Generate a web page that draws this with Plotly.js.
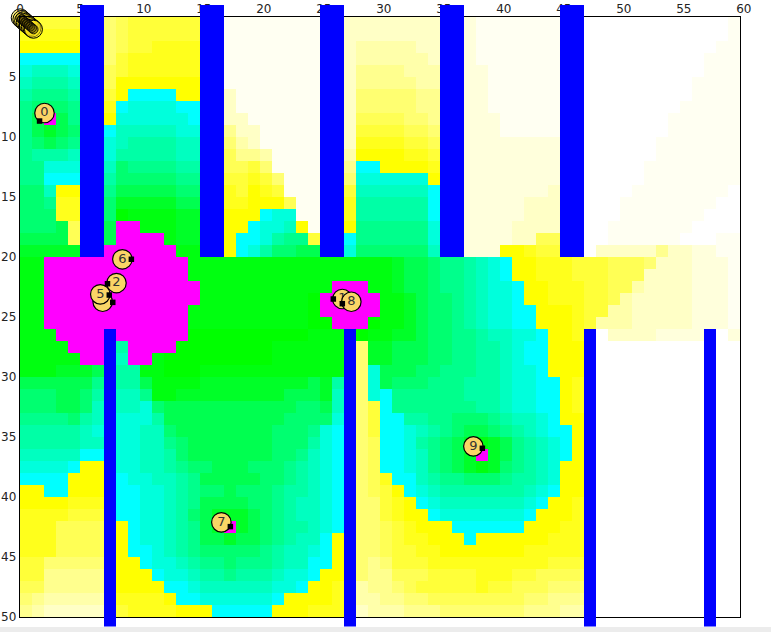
<!DOCTYPE html>
<html>
<head>
<meta charset="utf-8">
<script src="https://cdn.plot.ly/plotly-3.0.1.min.js"></script>
<style>html,body{margin:0;padding:0;background:#ececec;overflow:hidden}#chart{width:771px;height:627px}</style>
</head>
<body>
<div id="chart"></div>
<script>
// Coverage grid: m = saturated, 0-9 = green to cyan, a-k = yellow to white. Groups of five columns.
var gridRows = [
"ccccc ccedc ccccc ccjjj jjjjj jjhhh hhhhh hhijj jjjjj jjkkk kkkkk kkkkj",
"bbbbb bbedc ccccc ccjjj jjjjj jjhhh hhhhh hhijj jjjjj jjkkk kkkkk kkkkj",
"aaaaa aaedc cbbbb bbjjj jjjjj jjhgg ggghh hhijj jjjjj jjkkk kkkkk kkkjj",
"99999 99ecb bbbbb bbjjj jjjjj jjhgg ggggh hhijj jjjjj jjkkk kkkkk kkjjj",
"87778 88dcb bbbbb bbjjj jjjjj jjhff ffggg iiiij jjjjj jjkkk kkkkk kkjjj",
"76667 77daa aaaaa aajjj jjjjj jjhff fffgg iiiij jjjjj jjkkk kkkkk kjjjj",
"65556 66ca9 999aa aahjj jjjjj jjhee eeeff iiiij jjjjj jjkkk kkkkk kjjjj",
"54445 55b98 88899 99hjj jjjjj jjhee eeeff iiiij jjjjj jjkkk kkkkk jjjjj",
"53m35 55a88 88889 88hhj jjjjj jjhdd ddeef iiiii jjjjj jjkkk kkkkj jjjjj",
"53234 44977 77788 77fhh jjjjj jjhcc ccdde iiiii jjjjj jjkkk kkkkj jjjjj",
"54345 55876 66677 66egh jjjjj jjhbb bbccd iiiii iiiii iikkk kkkjj jjjjj",
"56667 77866 66677 66dff gjjjj jjgaa aabbc iiiii iiiii iikkk kkkjj jjjjj",
"55888 88745 55566 55ddc ejjjj jjf99 aaaab iiiii iiiii iikkk kkjjj jjjjj",
"55999 99644 44455 44ccb cejjj jje88 8888a iiiii iiiii iikkk kkjjj jjjjj",
"447aa aa533 33344 33bca bcjjj jjc77 77779 iiiii iiiih hhkkk kjjjj jjjjk",
"445bb bb422 22233 22bba aadjj jjb66 66669 hiiii iihhh hhkkk jjjjj jjjkk",
"444bb bb401 11122 22aaa 988jj jjb66 66669 hhiii iihhh hhkkk jjjjj jjkkk",
"4443d dd3mm 11122 22aa9 887aj jja55 55558 hhiii ihhhh hhkkj jjjjj jkkkk",
"3333d dd3mm mm122 22a99 8655c cc955 55558 hhiii ihhdd ddkkj jjjjj kkkjj",
"22222 22mmm mmm11 11a98 64433 33844 44447 hhiii aabcc cckhh hhhfh hiijj",
"11mmm mmmmm mmmm1 11111 11111 11111 12334 55678 9aabb bcccd ddehh hiiij",
"11mmm mmmmm mmmm1 11111 11111 11111 12334 55678 9aabb bcccd ddhhh hiiij",
"11mmm mmmmm mmmmm 11111 11111 1mmm1 12334 55678 89aab bbccd dghhh hiiij",
"11mmm mmmmm mmmmm 11111 11110 mmmmm 11234 45678 89aab bbccd ghhhh hiiij",
"11mmm mmmmm mmmm1 11111 11110 mmmmm 11234 45678 899aa abccg ghhhh hiiij",
"11mmm mmmmm mmmm1 11111 11110 0mmm0 11234 45678 899aa abcgg ghhhh hiiij",
"111mm mmmmm mmmm0 00000 00001 11101 12234 45567 7889a abbkh hhhii iihki",
"1111m mmm6m mmm00 00000 01111 111e2 23334 45566 7899a aabkk kkkkk kkkkk",
"11111 mmm7m m1000 00000 01111 111e2 23334 45566 7899a aabkk kkkkk kkkkk",
"11122 23366 11000 11111 11111 111e8 33344 55566 7889a aabkk kkkkk kkkkk",
"33333 35566 31111 22222 22223 266e8 34445 55666 78899 abbkk kkkkk kkkkk",
"44433 46677 51122 22222 22333 277e8 95555 55666 78899 abbkk kkkkk kkkkk",
"44433 47777 84333 33333 33344 377ec 95555 55566 78899 abbkk kkkkk kkkkk",
"55554 67788 86333 33333 33444 488ec 99665 54445 67789 aaakk kkkkk kkkkk",
"66666 78888 77433 33333 34445 899ec 99876 54334 56789 9aakk kkkkk kkkkk",
"66666 77788 77543 33333 34446 899ed 99865 43212 35678 9aakk kkkkk kkkkk",
"77777 99988 77643 33333 34457 899ed 99875 432m2 35678 9aakk kkkkk kkkkk",
"88889 aaa88 77654 43334 44567 899ed 99875 43212 45678 aaakk kkkkk kkkkk",
"9999a aaa98 87765 33333 44567 899ed b9976 55444 56678 aaakk kkkkk kkkkk",
"aa99a aaa99 88765 44344 45667 899ed ca987 66666 66789 aaakk kkkkk kkkkk",
"aaaab bbb99 88765 33334 45677 899ee cba98 77777 7789a abbkk kkkkk kkkkk",
"bbbbc ccc99 88764 32223 45677 899ee cbaa9 88888 889aa abbkk kkkkk kkkkk",
"bbbdd ddda9 88765 32m23 45667 899ee dcbaa a9999 99aaa bbbkk kkkkk kkkkk",
"bbbdd ddda9 88765 33233 45677 9aaee dcbba aa9aa aaaab bbbkk kkkkk kkkkk",
"bbbdd ddda9 98765 44444 56778 9aaee dccbb aaaaa aabbb bbckk kkkkk kkkkk",
"cceee eeeaa 98876 55455 56779 9aaef ecccb bbbbb bbbbc ccdkk kkkkk kkkkk",
"ccfff fffaa a9887 66566 67889 aabef fdddc cccbb bccdd dddkk kkkkk kkkkk",
"ddfff fffaa aa998 77777 7889a abbgf fedcc cccbc cddde eeekk kkkkk kkkkk",
"efggg gggbb bba99 88888 89aaa abbgg ffeed ddddd ddeef fffkk kkkkk kkkkk",
"fghhh hhhcb bbbaa a9999 9aaab bbbhg ggfff eeeee eefff gggkk kkkkk kkkkk"
];
var levelCodes = "m0123456789abcdefghijk";
var palette = ["#ff00ff",
  "#00ff00","#00ff10","#00ff28","#00ff50","#00ff70","#00ff8c","#00ffa6","#00ffc0","#00ffdc","#00ffff",
  "#ffff00","#ffff1c","#ffff39","#ffff55","#ffff71","#ffff8e","#ffffaa","#ffffc6","#ffffdc","#fffff2","#ffffff"];

// Walls, in grid units
var wallLeft   = [5, 15, 25, 35, 45, 7, 27, 47, 57];
var wallRight  = [7, 17, 27, 37, 47, 8, 28, 48, 58];
var wallTop    = [-1, -1, -1, -1, -1, 26, 26, 26, 26];
var wallBottom = [20, 20, 20, 20, 20, 50.8, 50.8, 50.8, 50.8];

// Access points, in draw order
var apLabels = ["", "2", "5", "6", "0", "7", "9", "1", "8"];
var apLabelX = [6.89, 8.04, 6.69, 8.53, 2.04, 16.78, 37.78, 26.86, 27.61];
var apLabelY = [23.73, 22.17, 23.11, 20.19, 8.0, 42.11, 35.78, 23.5, 23.73];
var apDotX   = [7.73, 7.29, 7.44, 9.28, 1.63, 17.53, 38.53, 26.11, 26.86];
var apDotY   = [23.78, 22.23, 23.17, 20.19, 8.67, 42.47, 35.94, 23.5, 23.89];

// Stack of unplaced clients at the origin
var stackX = [-0.12, 0.02, 0.16, 0.3, 0.44, 0.58, 0.72, 0.86, 1.0, 1.12];
var stackY = [-0.05, 0.07, 0.2, 0.32, 0.45, 0.56, 0.68, 0.8, 0.92, 1.02];
var loopX = [0.02];
var loopY = [-0.92];

var xTicks = [0, 5, 10, 15, 20, 25, 30, 35, 40, 45, 50, 55, 60];
var yTicks = [5, 10, 15, 20, 25, 30, 35, 40, 45, 50];

var z = gridRows.map(function (row) {
  return row.replace(/ /g, "").split("").map(function (ch) { return levelCodes.indexOf(ch) - 1; });
});
var scale = [];
palette.forEach(function (c, i) {
  scale.push([i / palette.length, c]);
  scale.push([(i + 1) / palette.length, c]);
});

var traces = [{
  type: "heatmap", z: z, x0: 0.5, dx: 1, y0: 0.5, dy: 1,
  zmin: -1.5, zmax: 20.5, colorscale: scale, showscale: false, zsmooth: false, hoverinfo: "skip"
}];

apLabels.forEach(function (label, i) {
  traces.push({
    type: "scatter", mode: "markers+text", x: [apLabelX[i]], y: [apLabelY[i]], text: [label],
    textposition: "middle center",
    textfont: { family: "DejaVu Sans", size: 13, color: "#333" },
    marker: { size: 19.5, color: "#fad566", line: { color: "#000", width: 1.2 } },
    cliponaxis: false, hoverinfo: "skip"
  });
});
traces.push({
  type: "scatter", mode: "markers", x: apDotX, y: apDotY,
  marker: { symbol: "square", size: 5.5, color: "#000" }, cliponaxis: false, hoverinfo: "skip"
});
traces.push({
  type: "scatter", mode: "markers", x: stackX, y: stackY,
  marker: { size: 18, color: "rgba(255,230,30,0.5)", line: { color: "#000", width: 1 } },
  cliponaxis: false, hoverinfo: "skip"
});
traces.push({
  type: "scatter", mode: "markers", x: stackX, y: stackY,
  marker: { size: 9, color: "rgba(60,50,0,0.35)", line: { color: "#000", width: 0.8 } },
  cliponaxis: false, hoverinfo: "skip"
});
traces.push({
  type: "scatter", mode: "markers", x: loopX, y: loopY,
  marker: { size: 6, color: "rgba(0,0,0,0)", line: { color: "#555", width: 1 } },
  cliponaxis: false, hoverinfo: "skip"
});

var yRange = [50, 0];
var wallShapes = wallLeft.map(function (x0, i) {
  return {
    type: "rect", layer: "above", xref: "x", yref: "paper",
    x0: x0, x1: wallRight[i],
    y0: 1 - wallBottom[i] / yRange[0], y1: 1 - wallTop[i] / yRange[0],
    fillcolor: "#0000ff", line: { width: 0 }
  };
});

// The top labels start at their tick, so two-digit labels sit right of it
var xTickText = xTicks.map(function (v) { return v >= 10 ? "\u00a0\u00a0" + v : String(v); });

var tickFont = { family: "DejaVu Sans", size: 12, color: "#222" };
var layout = {
  width: 771, height: 627, autosize: false, showlegend: false,
  margin: { l: 20, r: 31, t: 17, b: 10, pad: 0 },
  paper_bgcolor: "#ffffff", plot_bgcolor: "#ffffff",
  xaxis: {
    side: "top", range: [0, 60], tickmode: "array", tickvals: xTicks, ticktext: xTickText,
    showgrid: false, zeroline: false, showline: true, mirror: true, linecolor: "#000", linewidth: 1.2,
    ticks: "", tickfont: tickFont, ticklabelstandoff: -2
  },
  yaxis: {
    range: yRange, tickmode: "array", tickvals: yTicks, ticktext: yTicks.map(String),
    showgrid: false, zeroline: false, showline: true, mirror: true, linecolor: "#000", linewidth: 1.2,
    ticks: "", tickfont: tickFont
  },
  shapes: wallShapes
};
Plotly.newPlot("chart", traces, layout, { displayModeBar: false, staticPlot: true });
</script>
</body>
</html>
